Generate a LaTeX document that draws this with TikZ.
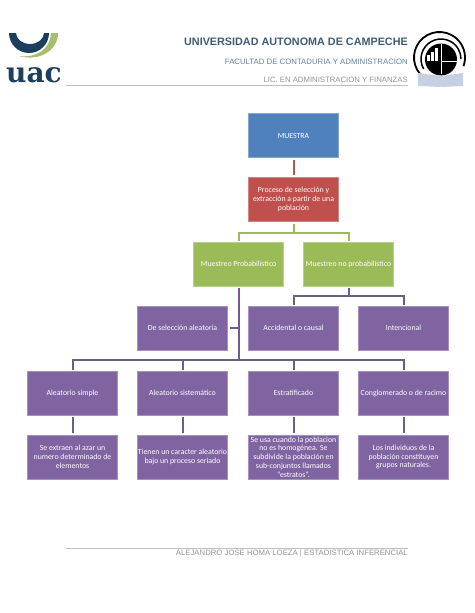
\documentclass[tikz,border=0pt]{standalone}
\usepackage{fontspec}
\setmainfont{Carlito}
\newfontfamily\headfont{Liberation Sans}
\newfontfamily\logofont{DejaVu Serif}
\usetikzlibrary{positioning,calc}
\definecolor{boxblue}{HTML}{4F81BD}
\definecolor{boxred}{HTML}{C0504D}
\definecolor{boxgreen}{HTML}{9BBB59}
\definecolor{boxpurple}{HTML}{8064A2}
\definecolor{linegray}{HTML}{6A5F88}
\definecolor{uacnavy}{HTML}{1C3F5E}
\definecolor{uacgreen}{HTML}{A9BE6C}
\definecolor{bookblue}{HTML}{C6D0E2}
\tikzset{
  box/.style={rectangle, minimum width=90pt, minimum height=44pt, inner sep=0pt, align=center,
    text=white, font=\fontsize{7.8}{8.7}\selectfont, draw=#1!70!white, line width=0.5pt, fill=#1},
  link/.style={line width=2pt, draw=#1},
  headtext/.style={anchor=east, inner sep=0pt, font=\headfont\fontsize{#1}{#1}\selectfont},
}

\begin{document}
\begin{tikzpicture}[x=1pt, y=-1pt]
\useasboundingbox (0,0) rectangle (474,613);

% Header
\node[headtext=10.8, text=uacnavy!85, font=\headfont\bfseries\fontsize{10.8}{11}\selectfont] (uni) at (408,42) {UNIVERSIDAD AUTONOMA DE CAMPECHE};
\node[headtext=7.8, text=boxblue!55!gray] (fac) at (408,62) {FACULTAD DE CONTADURIA Y ADMINISTRACION};
\node[headtext=7.75, text=gray!85] (lic) at (408,80) {LIC. EN ADMINISTRACION Y FINANZAS};
\draw[gray!50, line width=0.8pt] (66,85) -- (408,85);

% Left logo
\fill[uacgreen] (58,33) .. controls (58,50) and (40,62) .. (19,56) .. controls (36,58) and (50,50) .. (51,33) -- cycle;
\fill[uacnavy] (9,33) arc[start angle=180, end angle=0, radius=20] -- (44,33) arc[start angle=0, end angle=180, x radius=14, y radius=11] -- cycle;
\node[inner sep=0pt, text=uacnavy] (uac) at (34,75) {\logofont\bfseries\fontsize{28}{28}\selectfont uac};

% Right logo
\draw[black, line width=1.8pt] (439.5,57.5) ++(140:25.5) arc[start angle=140, end angle=380, radius=25.5];
\draw[black, line width=1.5pt] (441,59) ++(150:20) arc[start angle=150, end angle=360, radius=20];
\fill[black] (441,59.5) circle (16);
\foreach \x/\y in {427/55, 431/52, 435/48}
  \fill[white] (\x,\y) rectangle (\x+2.5,61);
\draw[white, line width=1pt] (441,44) -- (441,74);
\draw[white, line width=1pt] (441,61) -- (458,61);
\fill[bookblue] (418,73) -- (441,76) -- (463,73) -- (463,86) -- (441,87) -- (418,86) -- cycle;

% Boxes
\node[box=boxblue] (muestra) at (293.5,135.5) {MUESTRA};
\node[box=boxred] (proceso) at (293.5,199.5) {Proceso de selección y\\extracción a partir de una\\población};
\node[box=boxgreen] (prob) at (238.5,264) {Muestreo Probabilístico};
\node[box=boxgreen] (noprob) at (348.5,264) {Muestreo no probabilístico};
\node[box=boxpurple] (selec) at (182.5,328) {De selección aleatoria};
\node[box=boxpurple] (accid) at (293.5,328) {Accidental o causal};
\node[box=boxpurple] (inten) at (403.5,328) {Intencional};
\node[box=boxpurple] (simple) at (72.5,393) {Aleatorio simple};
\node[box=boxpurple] (siste) at (182.5,393) {Aleatorio sistemático};
\node[box=boxpurple] (estra) at (293.5,393) {Estratificado};
\node[box=boxpurple] (congl) at (403.5,393) {Conglomerado o de racimo};
\node[box=boxpurple] (dsimple) at (72.5,457) {Se extraen al azar un\\numero determinado de\\elementos};
\node[box=boxpurple] (dsiste) at (182.5,457) {Tienen un caracter aleatorio\\bajo un proceso seriado};
\node[box=boxpurple] (destra) at (293.5,457) {Se usa cuando la poblacion\\no es homogénea. Se\\subdivide la población en\\sub-conjuntos llamados\\“estratos”.};
\node[box=boxpurple] (dcongl) at (403.5,457) {Los individuos de la\\población constituyen\\grupos naturales.};

% Connectors
\coordinate (fork) at (238.5,360);
\draw[link=boxred, shorten <=2pt, shorten >=2pt] (muestra.south) -- (proceso.north);
\draw[link=boxgreen, shorten <=2pt, shorten >=1pt] (proceso.south) -- ++(0,11) -| (prob.north);
\draw[link=boxgreen, shorten <=2pt, shorten >=1pt] (proceso.south) -- ++(0,11) -| (noprob.north);
\draw[link=linegray, shorten <=2pt, shorten >=1pt] (noprob.south) -- ++(0,10) -| (accid.north);
\draw[link=linegray, shorten <=2pt, shorten >=1pt] (noprob.south) -- ++(0,10) -| (inten.north);
\draw[link=boxpurple!90!black, shorten <=2pt] (prob.south) -- (fork);
\draw[link=linegray, shorten <=2pt] (selec.east) -- (selec.east -| prob.south);
\foreach \name in {simple, siste, estra, congl}
  \draw[link=linegray, shorten >=1pt] (fork) -| (\name.north);
\foreach \name/\desc in {simple/dsimple, siste/dsiste, estra/destra, congl/dcongl}
  \draw[link=linegray, shorten <=2pt, shorten >=2pt] (\name.south) -- (\desc.north);

% Footer
\draw[gray!50, line width=0.8pt] (66,548) -- (408,548);
\node[headtext=7.75, text=gray!85] (foot) at (408,554) {ALEJANDRO JOSE HOMA LOEZA | ESTADISTICA INFERENCIAL};
\end{tikzpicture}
\end{document}
